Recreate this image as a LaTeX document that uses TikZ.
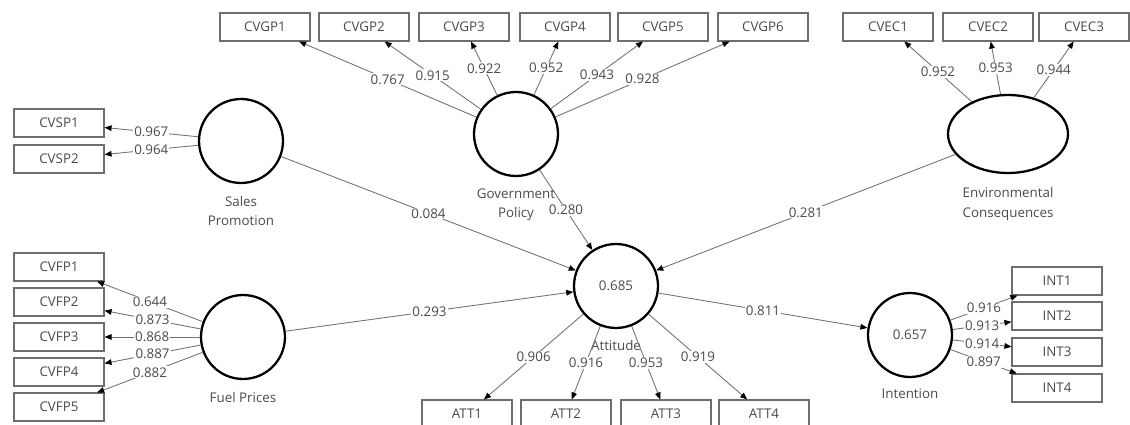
\documentclass[tikz,border=0pt]{standalone}
\usepackage{fontspec}
\setmainfont{Open Sans}
\usetikzlibrary{shapes.geometric,arrows.meta,positioning}

\begin{document}
\begin{tikzpicture}[x=0.02cm,y=-0.02cm,font=\fontsize{7.6}{9}\selectfont,
  latent/.style={circle,draw=black,line width=1.3pt,minimum size=1.68cm,inner sep=0pt,text=txtgray},
  indic/.style={rectangle,draw=boxgray,line width=0.6pt,minimum width=1.8cm,minimum height=0.56cm,text=txtgray},
  latname/.style={align=center,text=txtgray,inner sep=1pt,font=\fontsize{7.6}{11}\selectfont},
  link/.style={draw=linegray,line width=0.5pt,-{Triangle[length=4pt,width=3.2pt,color=black]}},
  coef/.style={fill=white,inner sep=0.6pt,text=txtgray}]
\definecolor{txtgray}{HTML}{4A4A4A}
\definecolor{boxgray}{HTML}{6E6E6E}
\definecolor{linegray}{HTML}{737373}
\useasboundingbox (0,0) rectangle (1130,425);

% latent variables
\node[latent] (sp) at (241,141) {};
\node[latent] (gp) at (516,134) {};
\node[latent,ellipse,minimum width=2.4cm,minimum height=1.56cm] (ec) at (1008,134) {};
\node[latent] (fp) at (243,337) {};
\node[latent] (att) at (616,286) {0.685};
\node[latent] (int) at (910,335) {0.657};

\node[latname,below=5.5pt of sp] (spname) {Sales\\Promotion};
\node[latname,below=5.5pt of gp] (gpname) {Government\\Policy};
\node[latname,below=6.5pt of ec] (ecname) {Environmental\\Consequences};
\node[latname,below=6pt of fp] (fpname) {Fuel Prices};
\node[latname,below=5pt of att] (attname) {Attitude};
\node[latname,below=5pt of int] (intname) {Intention};

% indicators
\foreach \i/\pos in {1/123,2/159}
  {\node[indic] (cvsp\i) at (59,\pos) {CVSP\i};}
\foreach \i/\pos in {1/267,2/302,3/337,4/372,5/407}
  {\node[indic] (cvfp\i) at (59,\pos) {CVFP\i};}
\foreach \i/\pos in {1/265,2/364,3/464,4/565,5/663,6/763}
  {\node[indic] (cvgp\i) at (\pos,27) {CVGP\i};}
\foreach \i/\pos in {1/888,2/988,3/1084}
  {\node[indic] (cvec\i) at (\pos,27) {CVEC\i};}
\foreach \i/\pos in {1/467,2/566,3/666,4/764}
  {\node[indic] (att\i) at (\pos,414) {ATT\i};}
\foreach \i/\pos in {1/281,2/316,3/352,4/388}
  {\node[indic] (int\i) at (1057,\pos) {INT\i};}

% outer loadings
\foreach \i/\val in {1/0.967,2/0.964}
  {\draw[link] (sp) -- node[coef] {\val} (cvsp\i);}
\foreach \i/\val in {1/0.644,2/0.873,3/0.868,4/0.887,5/0.882}
  {\draw[link] (fp) -- node[coef] {\val} (cvfp\i);}
\foreach \i/\val in {1/0.767,2/0.915,3/0.922,4/0.952,5/0.943,6/0.928}
  {\draw[link] (gp) -- node[coef] {\val} (cvgp\i);}
\foreach \i/\val in {1/0.952,2/0.953,3/0.944}
  {\draw[link] (ec) -- node[coef] {\val} (cvec\i);}
\foreach \i/\val in {1/0.906,2/0.916,3/0.953,4/0.919}
  {\draw[link] (att) -- node[coef] {\val} (att\i);}
\foreach \i/\val in {1/0.916,2/0.913,3/0.914,4/0.897}
  {\draw[link] (int) -- node[coef] {\val} (int\i);}

% path coefficients
\draw[link] (sp) -- node[coef] {0.084} (att);
\draw[link] (gp) -- node[coef] {0.280} (att);
\draw[link] (ec) -- node[coef] {0.281} (att);
\draw[link] (fp) -- node[coef] {0.293} (att);
\draw[link] (att) -- node[coef] {0.811} (int);
\end{tikzpicture}
\end{document}
